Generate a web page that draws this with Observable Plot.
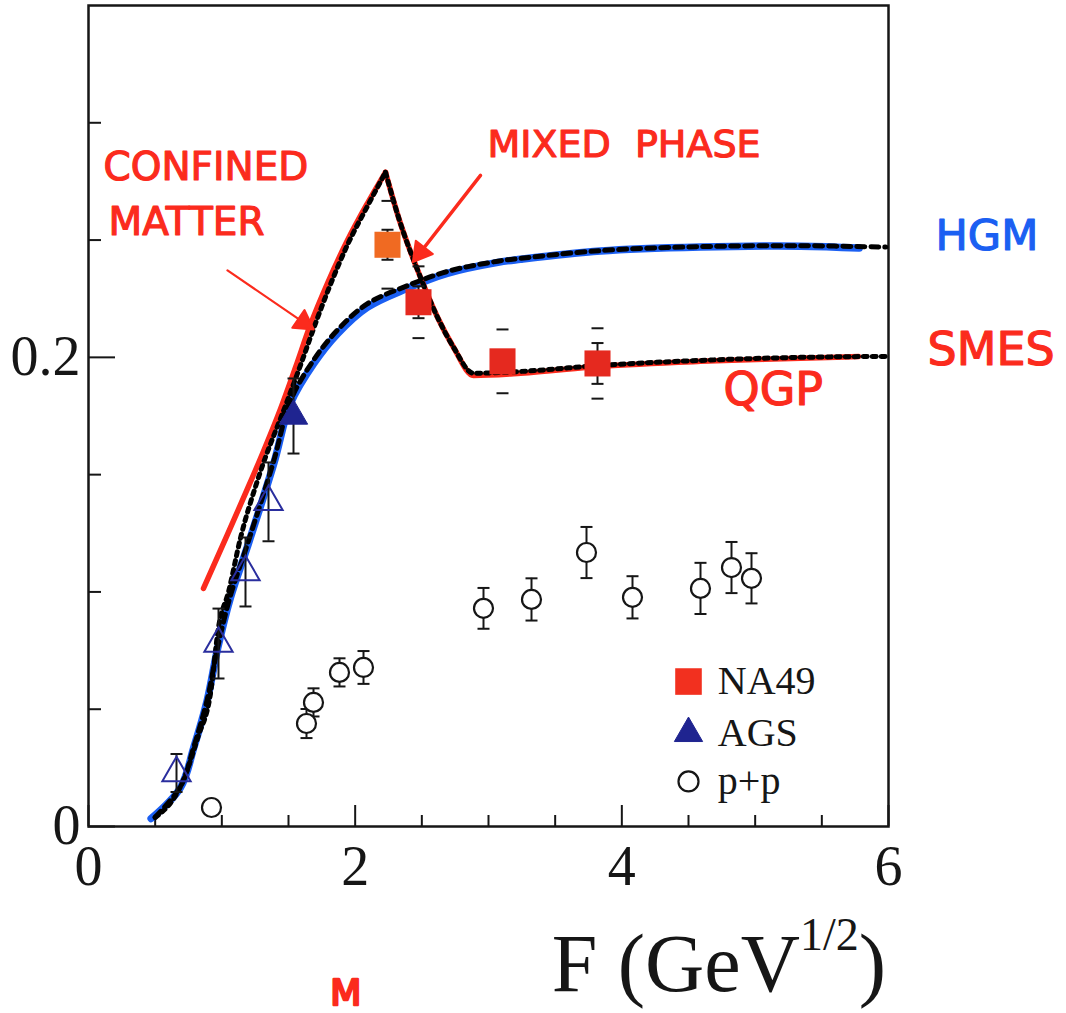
<!DOCTYPE html>
<html><head><meta charset="utf-8">
<script src="https://cdn.jsdelivr.net/npm/d3@7"></script>
<script src="https://cdn.jsdelivr.net/npm/@observablehq/plot@0.6"></script>
<style>html,body{margin:0;padding:0;background:#fff;}#chart{width:1066px;height:1013px;overflow:hidden;}</style>
</head><body><div id="chart"></div>
<script>
// ---- data ----
const hgmBlueF = [0.47,0.69,0.79,0.89,0.97,1.065,1.19,1.39,1.515,1.69,1.87,2.09,2.39,2.69,3.07,3.24,3.84,4.59,5.34,5.78];
const hgmBlueY = [0.0034,0.0166,0.0337,0.0537,0.0763,0.0977,0.1190,0.1548,0.1804,0.1974,0.2102,0.2213,0.2294,0.2358,0.2405,0.2418,0.2453,0.2470,0.2474,0.2466];
const hgmBlackF = [0.50,0.69,0.79,0.89,0.97,1.065,1.19,1.39,1.515,1.69,1.87,2.09,2.39,2.69,3.07,3.24,3.84,4.59,5.34,5.98];
const hgmBlackY = [0.0040,0.0170,0.0340,0.0540,0.0768,0.0985,0.1200,0.1560,0.1815,0.1990,0.2118,0.2228,0.2305,0.2366,0.2410,0.2422,0.2455,0.2472,0.2476,0.2470];
// SMES curves: rising branch up to the peak, then falling / flat branch from the peak
const smesRedRiseF = [0.8625,1.0425,1.1925,1.3125,1.44,1.5525,1.665,1.7925,1.9425,2.0925,2.2275];
const smesRedRiseY = [0.1015,0.1245,0.1440,0.1600,0.1780,0.1957,0.2140,0.2316,0.2499,0.2657,0.2789];
const smesRedFallF = [2.2275,2.325,2.49,2.6175,2.7375,2.8875,3.24,3.84,4.59,5.34,5.775];
const smesRedFallY = [0.2789,0.2597,0.2341,0.2171,0.2043,0.1923,0.1932,0.1962,0.1983,0.1996,0.2004];
const smesBlackRiseF = [0.50,0.71,0.82,0.915,0.975,1.05,1.14,1.2675,1.4925,1.605,1.68,1.80,1.9425,2.0925,2.2275];
const smesBlackRiseY = [0.0038,0.0196,0.0380,0.0567,0.0849,0.1000,0.1230,0.1475,0.1817,0.1990,0.2110,0.2290,0.2480,0.2645,0.2789];
const smesBlackFallF = [2.2275,2.325,2.49,2.6175,2.7375,2.8875,3.24,3.84,4.59,5.34,5.98];
const smesBlackFallY = [0.2789,0.2597,0.2341,0.2171,0.2043,0.1932,0.1940,0.1966,0.1987,0.2000,0.2004];

const na49F = [2.2425,2.475,3.105,3.8175];
const na49Y = [0.248,0.2235,0.1983,0.1974];
const na49Stat = [0.0064,0.0068,0.004,0.0087];
const na49Sys = [0.0187,0.0153,0.0136,0.015];
const na49Preliminary = [true,false,false,false];

const agsF = [0.66,0.975,1.1775,1.35,1.5375];
const agsY = [0.0228,0.078,0.1085,0.1384,0.175];
const agsErr = [0.0081,0.0149,0.0147,0.0168,0.016];
const agsFilled = [false,false,false,false,true];

const ppF = [0.9225,1.635,1.6875,1.8825,2.0625,2.9625,3.3225,3.735,4.08,4.59,4.8225,4.9725];
const ppY = [0.0081,0.0439,0.0529,0.0657,0.0678,0.0930,0.0968,0.1168,0.0977,0.1015,0.1104,0.1058];
const ppErr = [0,0.0062,0.006,0.006,0.007,0.0087,0.009,0.0109,0.009,0.0109,0.0109,0.0107];

const xTickLabels = [0,2,4,6];
const xMinorTicks = [0.5,1,1.5,2.5,3,3.5,4.5,5,5.5];
const yTickLabels = [0,0.2];
const yMinorTicks = [0.05,0.1,0.15,0.25,0.3];
const legendLabels = ["NA49","AGS","p+p"];

// ---- layout / styles ----
const W = 1066, H = 1013, ML = 88, MR = 178, MT = 5, MB = 187;
const plotW = W - ML - MR, plotH = H - MT - MB;
const RED = "#fb2b1d", BLUE = "#1b5ff2", NAVY = "#2a2e9e", INK = "#161616";
const SERIF = "'Liberation Serif','Times New Roman',serif";
const HAND = "'DejaVu Sans',sans-serif";

const zip = (xs, ys, seg) => xs.map((x, i) => ({x, y: ys[i], seg}));
const hgmBlue = zip(hgmBlueF, hgmBlueY, "a");
const hgmBlack = zip(hgmBlackF, hgmBlackY, "a");
const smesRed = [...zip(smesRedRiseF, smesRedRiseY, "rise"), ...zip(smesRedFallF, smesRedFallY, "fall")];
const smesBlack = [...zip(smesBlackRiseF, smesBlackRiseY, "rise"), ...zip(smesBlackFallF, smesBlackFallY, "fall")];
const na49 = na49F.map((x, i) => ({x, y: na49Y[i], stat: na49Stat[i], sys: na49Sys[i], prelim: na49Preliminary[i]}));
const ags = agsF.map((x, i) => ({x, y: agsY[i], err: agsErr[i], filled: agsFilled[i]}));
const pp = ppF.map((x, i) => ({x, y: ppY[i], err: ppErr[i]}));
const ppWithErr = pp.filter(d => d.err > 0);

const capSymbol = {draw(ctx, size) { const w = Math.sqrt(size / Math.PI); ctx.moveTo(-w, 0); ctx.lineTo(w, 0); }};
const caps = (data, errKey) => data.flatMap(d => [{x: d.x, y: d.y - d[errKey]}, {x: d.x, y: d.y + d[errKey]}]);

// arrows (hand drawn annotations)
const arrows = [
  {x1: 1.0425, y1: 0.2371, x2: 1.6125, y2: 0.2149, w: 2.2},
  {x1: 2.94, y1: 0.2776, x2: 2.49, y2: 0.2448, w: 3.5}
].map(a => {
  const dx = (a.x2 - a.x1) * plotW / 6, dy = -(a.y2 - a.y1) * plotH / 0.35;
  return {...a, rot: Math.atan2(dx, -dy) * 180 / Math.PI};
});

const legendRowY = [0.0618, 0.0397, 0.0192];
const legendRows = legendLabels.map((label, i) => ({label, i, x: 4.5, y: legendRowY[i]}));

const svg = Plot.plot({
  width: W, height: H,
  marginLeft: ML, marginRight: MR, marginTop: MT, marginBottom: MB,
  x: {domain: [0, 6]},
  y: {domain: [0, 0.35]},
  style: {background: "#fff", fontFamily: SERIF, color: INK, overflow: "visible"},
  marks: [
    Plot.frame({stroke: INK, strokeWidth: 2.5}),
    Plot.ruleX(xTickLabels, {x: d => d, insetTop: plotH - 21, stroke: INK, strokeWidth: 2}),
    Plot.ruleX(xMinorTicks, {x: d => d, insetTop: plotH - 11, stroke: INK, strokeWidth: 2}),
    Plot.ruleY(yTickLabels, {y: d => d, insetRight: plotW - 27, stroke: INK, strokeWidth: 2}),
    Plot.ruleY(yMinorTicks, {y: d => d, insetRight: plotW - 13, stroke: INK, strokeWidth: 2}),
    Plot.axisX({ticks: xTickLabels, tickSize: 0, tickPadding: 19, fontSize: 56, label: null, tickFormat: d => String(d)}),
    Plot.axisY({ticks: yTickLabels, tickSize: 0, tickPadding: 8, fontSize: 56, label: null, tickFormat: d => String(d)}),

    // curves
    Plot.line(hgmBlue, {x: "x", y: "y", stroke: BLUE, strokeWidth: 7.5, curve: "catmull-rom", strokeLinecap: "round"}),
    Plot.line(smesRed, {x: "x", y: "y", z: "seg", stroke: RED, strokeWidth: 5.5, curve: "monotone-x", strokeLinecap: "round", strokeLinejoin: "round"}),
    Plot.line(hgmBlack, {x: "x", y: "y", stroke: "#000", strokeWidth: 5, strokeDasharray: "8,6", curve: "catmull-rom"}),
    Plot.line(smesBlack, {x: "x", y: "y", z: "seg", stroke: "#000", strokeWidth: 5, strokeDasharray: "4,5", curve: "monotone-x"}),

    // error bars
    Plot.ruleX(ppWithErr, {x: "x", y1: d => d.y - d.err, y2: d => d.y + d.err, stroke: INK, strokeWidth: 2}),
    Plot.dot(caps(ppWithErr, "err"), {x: "x", y: "y", symbol: capSymbol, r: 6, stroke: INK, strokeWidth: 2}),
    Plot.ruleX(ags, {x: "x", y1: d => d.y - d.err, y2: d => d.y + d.err, stroke: INK, strokeWidth: 2}),
    Plot.dot(caps(ags, "err"), {x: "x", y: "y", symbol: capSymbol, r: 6, stroke: INK, strokeWidth: 2}),
    Plot.ruleX(na49, {x: "x", y1: d => d.y - d.stat, y2: d => d.y + d.stat, stroke: INK, strokeWidth: 2}),
    Plot.dot(caps(na49, "stat"), {x: "x", y: "y", symbol: capSymbol, r: 6, stroke: INK, strokeWidth: 2}),
    Plot.dot(caps(na49, "sys"), {x: "x", y: "y", symbol: capSymbol, r: 6, stroke: INK, strokeWidth: 2}),

    // data symbols
    Plot.dot(pp, {x: "x", y: "y", r: 9.5, fill: "#fff", stroke: INK, strokeWidth: 2.2}),
    Plot.dot(ags.filter(d => !d.filled), {x: "x", y: "y", symbol: "triangle", r: 10.5, fill: "none", stroke: NAVY, strokeWidth: 2}),
    Plot.dot(ags.filter(d => d.filled), {x: "x", y: "y", symbol: "triangle", r: 10.5, fill: "#1f2490", stroke: "#1f2490", strokeWidth: 1}),
    Plot.dot(na49, {x: "x", y: "y", symbol: "square", r: 14.7, fill: d => d.prelim ? "#f06a22" : "#e5291f", stroke: "none"}),

    // legend
    Plot.dot(legendRows.filter(d => d.i === 0), {x: "x", y: "y", symbol: "square", r: 15, fill: "#f2301f"}),
    Plot.dot(legendRows.filter(d => d.i === 1), {x: "x", y: "y", symbol: "triangle", r: 10.5, fill: "#1f2490", stroke: "#1f2490", strokeWidth: 1}),
    Plot.dot(legendRows.filter(d => d.i === 2), {x: "x", y: "y", r: 10, fill: "#fff", stroke: INK, strokeWidth: 2.2}),
    Plot.text(legendRows, {x: d => d.x + 0.22, y: "y", text: "label", textAnchor: "start", fontSize: 40, fontFamily: SERIF, fill: INK}),

    // hand drawn annotations
    Plot.link(arrows, {x1: "x1", y1: "y1", x2: "x2", y2: "y2", stroke: RED, strokeWidth: d => d.w, strokeLinecap: "round"}),
    Plot.dot(arrows, {x: "x2", y: "y2", symbol: "triangle", r: 8, rotate: "rot", fill: RED, stroke: RED, strokeWidth: 2, strokeLinejoin: "round"}),
    Plot.text(["CONFINED"], {x: 0.1125, y: 0.281, text: d => d, textAnchor: "start", fontSize: 39, fontFamily: HAND, fill: RED, stroke: RED, strokeWidth: 1.2}),
    Plot.text(["MATTER"], {x: 0.15, y: 0.2576, text: d => d, textAnchor: "start", fontSize: 39, fontFamily: HAND, fill: RED, stroke: RED, strokeWidth: 1.2}),
    Plot.text(["MIXED  PHASE"], {x: 2.9925, y: 0.2908, text: d => d, textAnchor: "start", fontSize: 38, fontFamily: HAND, fill: RED, stroke: RED, strokeWidth: 1.2}),
    Plot.text(["QGP"], {x: 4.7625, y: 0.1859, text: d => d, textAnchor: "start", fontSize: 46, fontFamily: HAND, fill: RED, stroke: RED, strokeWidth: 1.2}),
    Plot.text(["HGM"], {x: 6.3525, y: 0.2516, text: d => d, textAnchor: "start", fontSize: 43, fontFamily: HAND, fill: BLUE, stroke: BLUE, strokeWidth: 1.2}),
    Plot.text(["SMES"], {x: 6.2925, y: 0.2030, text: d => d, textAnchor: "start", fontSize: 46, fontFamily: HAND, fill: RED, stroke: RED, strokeWidth: 1.2}),
    Plot.text(["M"], {x: 1.93, y: -0.0712, text: d => d, textAnchor: "middle", fontSize: 36, fontFamily: HAND, fill: RED, stroke: RED, strokeWidth: 2.5})
  ]
});

// axis title with superscript
const title = d3.select(svg).append("text")
  .attr("x", ML + plotW - 2).attr("y", 991)
  .attr("text-anchor", "end").attr("font-family", SERIF)
  .attr("font-size", 82).attr("fill", INK);
title.append("tspan").text("F (GeV");
title.append("tspan").attr("dy", -41).attr("font-size", 46).text("1/2");
title.append("tspan").attr("dy", 41).text(")");

document.getElementById("chart").appendChild(svg);
</script>
</body></html>
